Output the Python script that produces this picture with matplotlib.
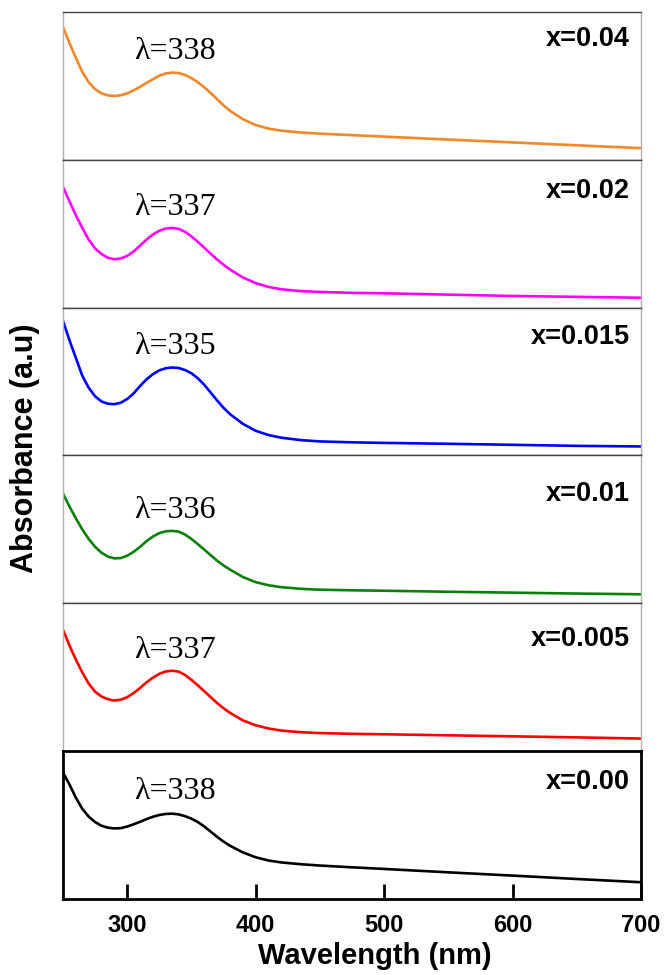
import matplotlib.pyplot as plt
import numpy as np

# wavelength grid (nm)
wl = [250, 255, 260, 265, 270, 275, 280, 285, 290, 295, 300, 305, 310, 315, 320, 325, 330, 335,
      340, 345, 350, 355, 360, 365, 370, 375, 380, 390, 400, 410, 420, 435, 450, 475, 500, 550,
      600, 650, 700]

# relative absorbance (panel height = 1)
abs_004 = [0.90, 0.79, 0.69, 0.595, 0.525, 0.478, 0.449, 0.436, 0.432, 0.437, 0.449, 0.47, 0.494,
           0.52, 0.545, 0.569, 0.584, 0.59, 0.587, 0.574, 0.553, 0.525, 0.49, 0.452, 0.41, 0.368,
           0.332, 0.275, 0.235, 0.211, 0.197, 0.185, 0.177, 0.167, 0.157, 0.137, 0.118, 0.098, 0.079]
abs_002 = [0.816, 0.72, 0.625, 0.54, 0.46, 0.40, 0.363, 0.337, 0.327, 0.333, 0.35, 0.38, 0.42,
           0.46, 0.495, 0.52, 0.535, 0.539, 0.533, 0.513, 0.482, 0.445, 0.405, 0.365, 0.325, 0.29,
           0.258, 0.204, 0.166, 0.14, 0.124, 0.112, 0.106, 0.10, 0.097, 0.088, 0.079, 0.073, 0.067]
abs_0015 = [0.91, 0.78, 0.66, 0.54, 0.458, 0.40, 0.365, 0.35, 0.347, 0.357, 0.382, 0.42, 0.47,
            0.515, 0.55, 0.576, 0.59, 0.595, 0.592, 0.578, 0.556, 0.522, 0.478, 0.425, 0.372, 0.322,
            0.28, 0.214, 0.167, 0.138, 0.12, 0.104, 0.095, 0.089, 0.085, 0.079, 0.072, 0.065, 0.061]
abs_001 = [0.742, 0.655, 0.575, 0.50, 0.435, 0.382, 0.342, 0.316, 0.304, 0.306, 0.322, 0.348,
           0.382, 0.42, 0.452, 0.475, 0.487, 0.49, 0.485, 0.465, 0.435, 0.40, 0.363, 0.325, 0.288,
           0.256, 0.228, 0.178, 0.143, 0.122, 0.109, 0.098, 0.092, 0.088, 0.085, 0.078, 0.072,
           0.066, 0.061]
abs_0005 = [0.82, 0.715, 0.62, 0.532, 0.457, 0.402, 0.369, 0.351, 0.342, 0.348, 0.365, 0.393,
            0.427, 0.465, 0.497, 0.523, 0.539, 0.544, 0.538, 0.515, 0.482, 0.445, 0.405, 0.365,
            0.325, 0.29, 0.259, 0.208, 0.175, 0.153, 0.139, 0.128, 0.122, 0.117, 0.114, 0.107,
            0.10, 0.093, 0.085]
abs_000 = [0.855, 0.775, 0.685, 0.61, 0.557, 0.52, 0.495, 0.482, 0.477, 0.479, 0.49, 0.505, 0.522,
           0.54, 0.556, 0.568, 0.575, 0.577, 0.572, 0.56, 0.543, 0.52, 0.49, 0.455, 0.42, 0.388,
           0.36, 0.315, 0.282, 0.26, 0.247, 0.235, 0.226, 0.214, 0.203, 0.18, 0.158, 0.135, 0.113]

series = [abs_004, abs_002, abs_0015, abs_001, abs_0005, abs_000]
colors = ['#f0882a', '#ff00ff', '#0000ff', '#0a800a', '#ff0000', '#000000']
x_labels = ['x=0.04', 'x=0.02', 'x=0.015', 'x=0.01', 'x=0.005', 'x=0.00']
peaks = ['λ=338', 'λ=337', 'λ=335', 'λ=336', 'λ=337', 'λ=338']
x_lab_y = [0.82, 0.79, 0.80, 0.74, 0.76, 0.79]
peak_y = [0.73, 0.68, 0.735, 0.63, 0.68, 0.73]

fig, axes = plt.subplots(6, 1, sharex=True, figsize=(6.66, 9.75), dpi=100)
fig.subplots_adjust(left=0.0946, right=0.9625, top=0.9877, bottom=0.078, hspace=0)

for i, ax in enumerate(axes):
    ax.plot(wl, series[i], color=colors[i], linewidth=1.9)
    ax.set_xlim(250, 700)
    ax.set_ylim(0, 1)
    ax.set_yticks([])
    ax.text(0.98, x_lab_y[i], x_labels[i], transform=ax.transAxes, ha='right', va='center',
            fontsize=19.5, fontweight='bold', family='Liberation Sans')
    ax.text(337, peak_y[i], peaks[i], ha='center', va='center', fontsize=23,
            family='Liberation Serif')
    if i < 5:
        ax.tick_params(axis='x', bottom=False, labelbottom=False)
        ax.spines['left'].set_color('#b0b0b0')
        ax.spines['right'].set_color('#b0b0b0')
        ax.spines['top'].set_color('#444444')
        ax.spines['bottom'].set_color('#444444')
        for s in ax.spines.values():
            s.set_linewidth(1.0)
    else:
        for s in ax.spines.values():
            s.set_color('black')
            s.set_linewidth(2.0)
        ax.set_xticks([300, 400, 500, 600, 700])
        ax.tick_params(axis='x', direction='in', length=11, width=2, pad=11)
        for lab in ax.get_xticklabels():
            lab.set_fontsize(17)
            lab.set_fontweight('bold')
            lab.set_family('Liberation Sans')

fig.text(0.563, 0.019, 'Wavelength (nm)', ha='center', va='center', fontsize=21,
         fontweight='bold', family='Liberation Sans')
fig.text(0.037, 0.54, 'Absorbance (a.u)', rotation=90, ha='center', va='center',
         fontsize=22, fontweight='bold', family='Liberation Sans')

plt.savefig('out.png', dpi=100)
